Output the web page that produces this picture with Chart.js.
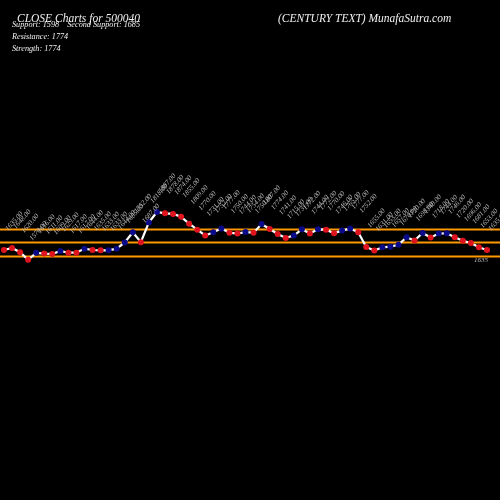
<!DOCTYPE html>
<html>
<head>
<meta charset="utf-8">
<script src="https://cdn.jsdelivr.net/npm/chart.js@4/dist/chart.umd.min.js"></script>
<style>
  html, body { margin: 0; padding: 0; background: #000; }
  #wrap { position: relative; width: 500px; height: 500px; background: #000; }
  canvas { position: absolute; left: 0; top: 0; }
  .t { position: absolute; color: #f2f2f2; font-family: "Liberation Serif", "DejaVu Serif", serif; font-style: italic; white-space: pre; }
</style>
</head>
<body>
<div id="wrap">
  <canvas id="c" width="500" height="500"></canvas>
  <div class="t" style="left:17px;top:12px;font-size:11.5px;">CLOSE Charts for 500040</div>
  <div class="t" style="left:278px;top:12px;font-size:11.5px;">(CENTURY TEXT) MunafaSutra.com</div>
  <div class="t" style="left:12px;top:20px;font-size:8.2px;">Support: 1598    Second Support: 1685</div>
  <div class="t" style="left:12px;top:32px;font-size:8.2px;">Resistance: 1774</div>
  <div class="t" style="left:12px;top:44px;font-size:8.2px;">Strength: 1774</div>
</div>
<script>
const closes = [1635,1648,1620,1570,1616,1611,1609,1629,1617,1617,
                1644,1635,1633,1633,1644,1685,1752,1687,1818,1887,
                1878,1874,1855,1809,1770,1731,1752,1777,1750,1744,
                1754,1750,1807,1774,1741,1715,1731,1772,1744,1772,
                1770,1746,1765,1777,1752,1655,1631,1653,1657,1670,
                1720,1698,1748,1718,1744,1746,1720,1696,1681,1653,1635];
// 1 = blue marker, 0 = red marker
const upFlags = [0,0,0,0,1,0,0,1,0,0,
                 1,0,0,1,1,1,1,0,1,1,
                 0,0,0,0,0,0,1,1,0,0,
                 1,0,1,0,0,0,1,1,0,1,
                 0,0,1,1,0,0,0,1,1,1,
                 1,0,1,0,1,1,0,0,0,0,0];
const levels = [1774, 1685, 1598];
const categories = closes.map((_, i) => String(i + 1));

const levelPlugin = {
  id: 'levels',
  beforeDatasetsDraw(chart) {
    const ctx = chart.ctx, y = chart.scales.y;
    ctx.save();
    ctx.strokeStyle = '#ff9900';
    ctx.lineWidth = 2;
    levels.forEach(v => {
      const py = Math.round(y.getPixelForValue(v)) + 0.5;
      ctx.beginPath();
      ctx.moveTo(0, py);
      ctx.lineTo(chart.width, py);
      ctx.stroke();
    });
    ctx.restore();
  }
};

const labelPlugin = {
  id: 'vlabels',
  afterDatasetsDraw(chart) {
    const ctx = chart.ctx;
    const meta = chart.getDatasetMeta(0);
    ctx.save();
    ctx.fillStyle = '#bdbdbd';
    ctx.font = 'italic 7px "Liberation Serif", serif';
    ctx.textBaseline = 'alphabetic';
    meta.data.forEach((pt, i) => {
      const txt = closes[i].toFixed(2);
      if (i === closes.length - 1) {
        ctx.textAlign = 'center';
        ctx.fillText(String(closes[i]), pt.x - 6, pt.y + 12);
        ctx.textAlign = 'left';
      }
      ctx.save();
      ctx.translate(pt.x + 4, pt.y - 19);
      ctx.rotate(-Math.PI * 0.27);
      ctx.fillText(txt, 0, 0);
      ctx.restore();
    });
    ctx.restore();
  }
};

new Chart(document.getElementById('c'), {
  type: 'line',
  data: {
    labels: categories,
    datasets: [{
      data: closes,
      borderColor: '#ffffff',
      borderWidth: 2.2,
      tension: 0,
      pointRadius: 3,
      pointBorderWidth: 0,
      pointBackgroundColor: upFlags.map(f => f ? '#0a0a8a' : '#e0141e'),
      pointBorderColor: upFlags.map(f => f ? '#0a0a8a' : '#e0141e')
    }]
  },
  options: {
    responsive: false,
    animation: false,
    layout: { padding: { left: 4, right: 13, top: 0, bottom: 0 } },
    plugins: { legend: { display: false }, tooltip: { enabled: false }, title: { display: false } },
    scales: {
      x: { type: 'category', display: false, offset: false },
      y: { display: false, min: 5, max: 3265 }
    }
  },
  plugins: [levelPlugin, labelPlugin]
});
</script>
</body>
</html>
